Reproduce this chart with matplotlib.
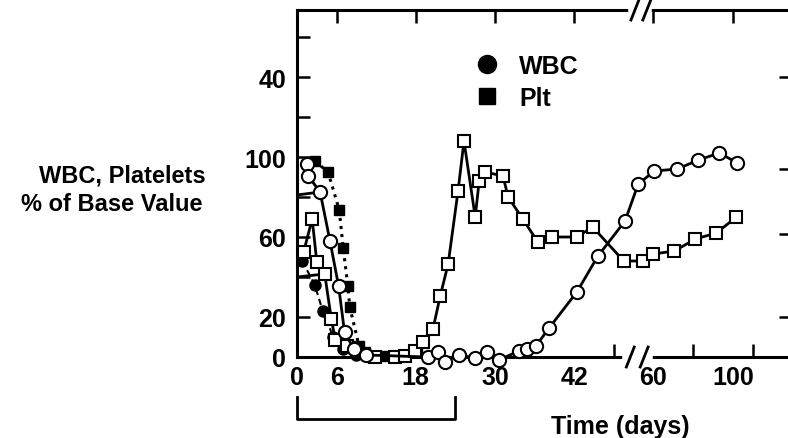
import numpy as np
import matplotlib
matplotlib.use('Agg')
import matplotlib.pyplot as plt
from matplotlib.lines import Line2D

plt.rcParams['font.family'] = ['Liberation Sans', 'DejaVu Sans']
plt.rcParams['font.weight'] = 'bold'

# WBC, open circles (days, % of base value)
wbc_days = [1.5, 1.7, 3.5, 5.0, 6.3, 7.2, 8.6, 10.5, 19.8, 21.4, 22.4, 24.5, 27.0,
            28.8, 30.6, 33.6, 34.8, 36.2, 38.2, 42.4, 45.6, 49.7, 51.7, 60.5, 72,
            82.5, 93, 102]
wbc_vals = [96.5, 90.5, 82.5, 58, 35.5, 12.5, 4, 1, 0, 2.5, -2.5, 1, -0.5,
            2.5, -1.5, 3, 4, 5.5, 14.5, 32.5, 50.5, 68, 86.5, 93, 94,
            98.5, 102, 97]
# second early WBC trace (no marker at day 0)
wbc2_days = [0, 3.5]
wbc2_vals = [81, 82.5]

# platelets, open squares
plt_days = [1.0, 2.3, 3.0, 4.2, 5.2, 5.8, 7.6, 11.8, 14.8, 16.4, 17.9, 19.1, 20.6,
            21.7, 22.9, 24.4, 25.3, 27.0, 27.6, 28.5, 31.2, 32.0, 34.2, 36.5, 38.6,
            42.4, 44.8, 49.5, 52.4, 60, 70.5, 81, 91.5, 101.5]
plt_vals = [52.5, 69, 47.5, 41.5, 19, 8.5, 5.5, 0, 0, 0.5, 3, 7.5, 14,
            30.5, 46.5, 83, 108, 70, 88, 92.5, 90.5, 80, 69, 57.5, 60,
            60, 65, 48, 48, 51.5, 53, 59, 62, 70]
plt2_days = [0, 4.2]
plt2_vals = [40, 41.5]

# WBC, filled circles (early only)
wbcf_days = [0.8, 2.7, 3.9, 5.5, 7.0, 9.0, 11.0]
wbcf_vals = [48, 36, 23, 10, 4, 1, 0]

# platelets, filled squares (early only)
pltf_days = [2.7, 4.7, 6.4, 7.0, 7.7, 8.0, 9.4, 10.3, 13.5, 18.2]
pltf_vals = [98, 92.5, 73.5, 54.5, 35.5, 25, 5.5, 2.5, 0.5, 3]

label_days = [0, 6, 18, 30, 42, 60, 100]
bottom_tick_days = [6, 18, 30, 42, 48, 60, 80, 100, 110]
top_tick_days = [6, 18, 30, 42, 60, 100]
ytick_vals = [0, 20, 40, 60, 80, 100, 120, 140, 160]
ytick_labels = ['0', '20', '', '60', '', '100', '', '40', '']
right_tick_vals = [20, 61.5, 94, 140]

# broken time axis: linear up to the break, compressed after day 60
LATE_SCALE = 2 / 6.6


def xpos(days):
    d = np.asarray(days, dtype=float)
    return np.where(d <= 53, d, 54 + (d - 60) * LATE_SCALE)


W, H = 788, 439
fig = plt.figure(figsize=(W / 100, H / 100), dpi=100)
ax = fig.add_axes([297 / W, 1 - 358 / H, (790 - 297) / W, (358 - 11) / H])
ax.set_xlim(0, (790 - 297) / 6.6)
ax.set_ylim(0, (358 - 11) / 2)

for s in ax.spines.values():
    s.set_linewidth(2.2)

open_kw = dict(color='black', lw=2.0, markerfacecolor='white',
               markeredgecolor='black', markeredgewidth=1.5, clip_on=False, zorder=5)
ax.plot(xpos(wbc2_days), wbc2_vals, '-', color='black', lw=2.0, zorder=4)
ax.plot(xpos(plt2_days), plt2_vals, '-', color='black', lw=2.0, zorder=4)
ax.plot(xpos(wbcf_days), wbcf_vals, '--', color='black', lw=1.5, dashes=(3, 2),
        marker='o', markersize=8, clip_on=False, zorder=5)
ax.plot(xpos(pltf_days), pltf_vals, ':', color='black', lw=2.2,
        marker='s', markersize=7.5, clip_on=False, zorder=5)
ax.plot(xpos(plt_days), plt_vals, '-', marker='s', markersize=8.5, **open_kw)
ax.plot(xpos(wbc_days), wbc_vals, '-', marker='o', markersize=9.5, **open_kw)

# ticks
ax.set_xticks(xpos(label_days))
ax.set_xticklabels([str(d) for d in label_days])
ax.set_xticks(xpos(bottom_tick_days), minor=True)
ax.tick_params(axis='x', which='major', length=0, pad=6, labelsize=18)
ax.tick_params(axis='x', which='minor', direction='in', length=9.5, width=1.8)
ax.set_yticks(ytick_vals)
ax.set_yticklabels(ytick_labels)
ax.tick_params(axis='y', direction='in', length=9.5, width=1.8, pad=8, labelsize=18)

top = ax.twiny()
top.set_xlim(ax.get_xlim())
top.set_xticks(xpos(top_tick_days))
top.set_xticklabels([])
top.tick_params(axis='x', direction='in', length=9.5, width=1.8)
right = ax.twinx()
right.set_ylim(ax.get_ylim())
right.set_yticks(right_tick_vals)
right.set_yticklabels([])
right.tick_params(axis='y', direction='in', length=8, width=1.8)
for a in (top, right):
    for s in a.spines.values():
        s.set_visible(False)

# axis breaks
ymax = ax.get_ylim()[1]
for y0, lo, hi, slashes in [(0, 49.7, 53.5, (50.5, 52.6)), (ymax, 50.6, 53.4, (51.2, 53.0))]:
    ax.plot([lo, hi], [y0, y0], color='white', lw=4, clip_on=False, zorder=3)
    for u in slashes:
        ax.plot([u - 0.6, u + 0.6], [y0 - 5, y0 + 5], color='black', lw=2,
                clip_on=False, zorder=3)

# bracket under the first 24 days
ax.plot(xpos([0, 0, 24, 24]), [-20, -31, -31, -20], color='black', lw=2,
        clip_on=False, zorder=3)

handles = [Line2D([], [], marker='o', color='black', ls='none', markersize=13),
           Line2D([], [], marker='s', color='black', ls='none', markersize=12)]
fig.legend(handles, ['WBC', 'Plt'], loc='upper left', frameon=False,
           bbox_to_anchor=(474 / W, 1 - 55 / H), borderpad=0, borderaxespad=0,
           handlelength=1, handletextpad=0.8, labelspacing=0.3,
           prop={'size': 18, 'weight': 'bold'})

fig.text(122 / W, 1 - 176 / H, 'WBC, Platelets', ha='center', va='center', fontsize=17)
fig.text(112 / W, 1 - 205 / H, '% of Base Value', ha='center', va='center', fontsize=17)
fig.text(620 / W, 1 - 427 / H, 'Time (days)', ha='center', va='center', fontsize=18)

fig.savefig('out.png', dpi=100)
